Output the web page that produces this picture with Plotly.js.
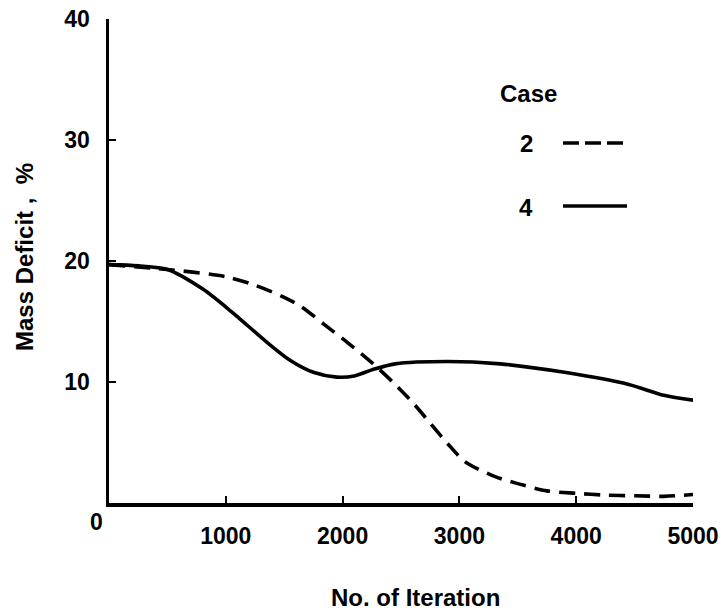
<!DOCTYPE html>
<html>
<head>
<meta charset="utf-8">
<script src="https://cdn.plot.ly/plotly-3.0.1.min.js"></script>
<style>
  html, body { margin: 0; padding: 0; background: #ffffff; }
  #chart { width: 724px; height: 611px; }
</style>
</head>
<body>
<div id="chart"></div>
<script>
// ---- data ----
const case2Iter = [0, 500, 1000, 1250, 1500, 1650, 1850, 2050, 2250, 2450, 2600, 2750, 2900, 3050, 3300, 3500, 3750, 4000, 4250, 4500, 4750, 5000];
const case2Deficit = [19.7, 19.3, 18.7, 18.0, 17.0, 16.2, 14.7, 13.2, 11.6, 9.8, 8.3, 6.6, 4.9, 3.4, 2.2, 1.6, 1.0, 0.8, 0.65, 0.6, 0.55, 0.7];

const case4Iter = [0, 250, 500, 800, 1050, 1350, 1550, 1750, 1950, 2100, 2250, 2450, 2900, 3350, 3900, 4450, 4750, 5000];
const case4Deficit = [19.7, 19.6, 19.3, 17.7, 15.8, 13.3, 11.8, 10.8, 10.4, 10.5, 11.0, 11.5, 11.7, 11.5, 10.8, 9.8, 8.9, 8.5];

const xTickVals = [1000, 2000, 3000, 4000, 5000];
const xTickText = ["1000", "2000", "3000", "4000", "5000"];
const yTickVals = [10, 20, 30, 40];
const yTickText = ["10", "20", "30", "40"];
const legendTitle = "Case";
const caseNames = ["2", "4"];

// ---- layout helpers ----
const W = 724, H = 611;
const M = { l: 109, r: 31, t: 19, b: 108 };
const pw = W - M.l - M.r, ph = H - M.t - M.b;
const px = x => (x - M.l) / pw;          // pixel -> paper x
const py = y => (H - M.b - y) / ph;      // pixel -> paper y

const FAM = "Liberation Sans, Arial, sans-serif";
const TICKFONT = { family: FAM, size: 23, color: "#000", weight: 700 };
const FONT = { family: FAM, size: 24, color: "#000", weight: 700 };

const traces = [
  {
    x: case2Iter, y: case2Deficit, type: "scatter", mode: "lines",
    name: caseNames[0],
    line: { color: "#000", width: 3.6, dash: "16px,9px", shape: "spline", smoothing: 0.8 },
    showlegend: false, hoverinfo: "skip"
  },
  {
    x: case4Iter, y: case4Deficit, type: "scatter", mode: "lines",
    name: caseNames[1],
    line: { color: "#000", width: 3.6, shape: "spline", smoothing: 0.8 },
    showlegend: false, hoverinfo: "skip"
  }
];

const layout = {
  width: W, height: H,
  margin: M,
  paper_bgcolor: "#fff", plot_bgcolor: "#fff",
  font: FONT,
  showlegend: false,
  xaxis: {
    range: [0, 5000], showgrid: false, zeroline: false,
    showline: true, linecolor: "#000", linewidth: 3.5,
    tickmode: "array", tickvals: xTickVals, ticktext: xTickText,
    ticks: "inside", ticklen: 7, tickwidth: 2, tickcolor: "#000",
    ticklabelstandoff: 10,
    tickfont: TICKFONT, fixedrange: true
  },
  yaxis: {
    range: [0, 40], showgrid: false, zeroline: false,
    showline: true, linecolor: "#000", linewidth: 3.5,
    tickmode: "array", tickvals: yTickVals, ticktext: yTickText,
    ticks: "inside", ticklen: 7, tickwidth: 2, tickcolor: "#000",
    ticklabelstandoff: 11,
    tickfont: TICKFONT, fixedrange: true
  },
  annotations: [
    { text: "0", xref: "paper", yref: "paper", x: px(96), y: py(522), showarrow: false, font: TICKFONT, xanchor: "center", yanchor: "middle" },
    { text: "No. of Iteration", xref: "paper", yref: "paper", x: px(415), y: py(597), showarrow: false, font: FONT, xanchor: "center", yanchor: "middle" },
    { text: "Mass Deficit ,  %", xref: "paper", yref: "paper", x: px(24), y: py(257), showarrow: false, font: FONT, textangle: -90, xanchor: "center", yanchor: "middle" },
    { text: legendTitle, xref: "paper", yref: "paper", x: px(498), y: py(93), showarrow: false, font: FONT, xanchor: "left", yanchor: "middle" },
    { text: caseNames[0], xref: "paper", yref: "paper", x: px(526), y: py(143), showarrow: false, font: FONT, xanchor: "center", yanchor: "middle" },
    { text: caseNames[1], xref: "paper", yref: "paper", x: px(526), y: py(207), showarrow: false, font: FONT, xanchor: "center", yanchor: "middle" }
  ],
  shapes: [
    { type: "line", xref: "paper", yref: "paper", x0: px(563), x1: px(623), y0: py(143), y1: py(143), line: { color: "#000", width: 3.6, dash: "16px,6px" } },
    { type: "line", xref: "paper", yref: "paper", x0: px(563), x1: px(627), y0: py(206), y1: py(206), line: { color: "#000", width: 3.6 } }
  ]
};

Plotly.newPlot("chart", traces, layout, { displayModeBar: false, staticPlot: true });
</script>
</body>
</html>
